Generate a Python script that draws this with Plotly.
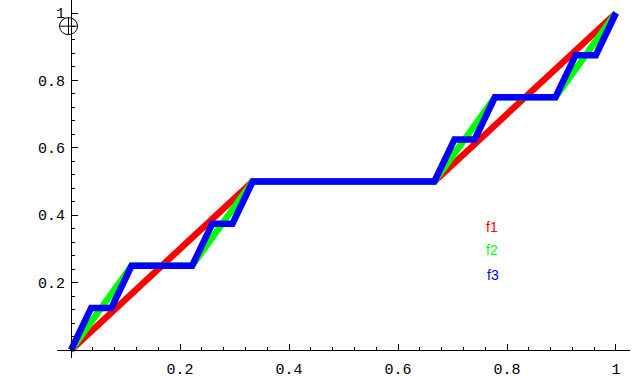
import plotly.graph_objects as go

# Data (iterates of the Cantor function)
f1_x = [0, 0.3333, 0.6667, 1]
f1_y = [0, 0.5, 0.5, 1]
f2_x = [0, 0.1111, 0.2222, 0.3333, 0.6667, 0.7778, 0.8889, 1]
f2_y = [0, 0.25, 0.25, 0.5, 0.5, 0.75, 0.75, 1]
f3_x = [0, 0.0370, 0.0741, 0.1111, 0.2222, 0.2593, 0.2963, 0.3333,
        0.6667, 0.7037, 0.7407, 0.7778, 0.8889, 0.9259, 0.9630, 1]
f3_y = [0, 0.125, 0.125, 0.25, 0.25, 0.375, 0.375, 0.5,
        0.5, 0.625, 0.625, 0.75, 0.75, 0.875, 0.875, 1]

x_tickvals = [0.2, 0.4, 0.6, 0.8, 1]
x_ticktext = ["0.2", "0.4", "0.6", "0.8", "1"]
y_tickvals = [0.2, 0.4, 0.6, 0.8, 1]
y_ticktext = ["0.2", "0.4", "0.6", "0.8", "1"]

labels = ["f1", "f2", "f3"]
label_x = [0.772, 0.772, 0.774]
label_y = [0.365, 0.297, 0.222]
colors = ["#ff0000", "#00ff00", "#0000ff"]

fig = go.Figure()
for xs, ys, c in [(f1_x, f1_y, colors[0]), (f2_x, f2_y, colors[1]), (f3_x, f3_y, colors[2])]:
    fig.add_trace(go.Scatter(x=xs, y=ys, mode="lines", cliponaxis=False,
                             line=dict(color=c, width=6.5), showlegend=False,
                             hoverinfo="skip"))

for t, lx, ly, c in zip(labels, label_x, label_y, colors):
    fig.add_annotation(x=lx, y=ly, text=t, showarrow=False, xref="x", yref="y",
                       font=dict(family="Liberation Sans, Arial", size=14, color=c))

tickfont = dict(family="Liberation Mono, Courier New, monospace", size=15, color="black")
fig.update_xaxes(range=[-0.0257, 1.0257], showgrid=False, zeroline=False,
                 showline=True, linecolor="black", linewidth=1,
                 anchor="free", position=0.0223,
                 ticks="inside", ticklen=6, tickcolor="black", tickwidth=1,
                 ticklabelstandoff=5,
                 tickvals=x_tickvals, ticktext=x_ticktext, tickfont=tickfont,
                 minor=dict(ticks="inside", ticklen=3, dtick=0.04, tick0=0,
                            tickcolor="black", showgrid=False),
                 automargin=False)
fig.update_yaxes(range=[-0.0237, 1.0386], showgrid=False, zeroline=False,
                 showline=True, linecolor="black", linewidth=1,
                 anchor="free", position=0.0244,
                 ticks="inside", ticklen=6, tickcolor="black", tickwidth=1,
                 ticklabelstandoff=3,
                 tickvals=y_tickvals, ticktext=y_ticktext, tickfont=tickfont,
                 minor=dict(ticks="inside", ticklen=3, dtick=0.04, tick0=0,
                            tickcolor="black", showgrid=False),
                 automargin=False)

# crosshair symbol near the top of the y axis
fig.add_shape(type="circle", xref="x", yref="y", xsizemode="pixel", ysizemode="pixel",
              xanchor=0, yanchor=0.961, x0=-11.5, x1=6.5, y0=-8.5, y1=8.5,
              line=dict(color="black", width=1))
fig.add_shape(type="line", xref="x", yref="y", xsizemode="pixel", ysizemode="pixel",
              xanchor=0, yanchor=0.961, x0=-11.5, x1=6.5, y0=0, y1=0,
              line=dict(color="black", width=1))
fig.add_shape(type="line", xref="x", yref="y", xsizemode="pixel", ysizemode="pixel",
              xanchor=0, yanchor=0.961, x0=-2.5, x1=-2.5, y0=-8.5, y1=8.5,
              line=dict(color="black", width=1))

fig.update_layout(width=636, height=378,
                  margin=dict(l=57, r=6, t=0, b=20),
                  plot_bgcolor="white", paper_bgcolor="white")
fig.write_html("out.html", config={"displayModeBar": False},
               post_script="document.body.style.margin='0px';document.body.style.padding='0px';")
